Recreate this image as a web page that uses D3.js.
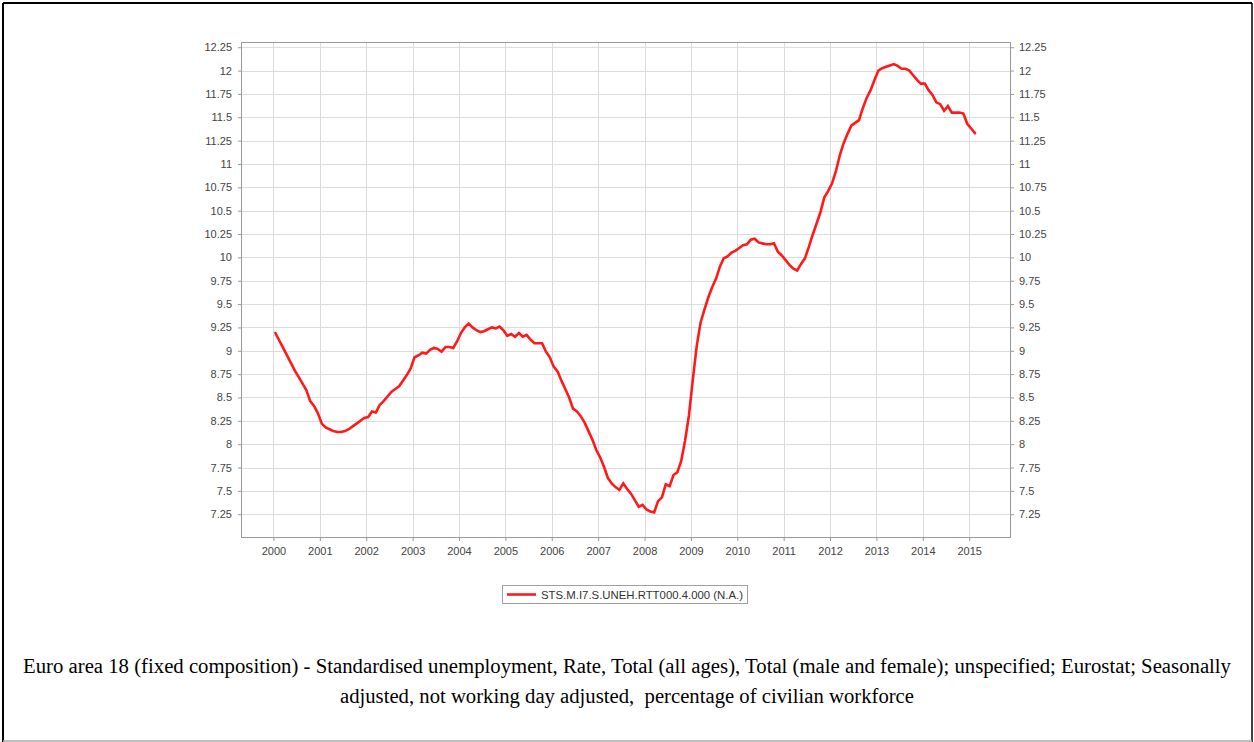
<!DOCTYPE html>
<html>
<head>
<meta charset="utf-8">
<script src="https://cdn.jsdelivr.net/npm/d3@7"></script>
<style>
  body { margin: 0; background: #fff; }
  svg { display: block; }
</style>
</head>
<body>
<svg id="chart" width="1254" height="742"></svg>
<script>
// monthly values, Jan 2000 .. Feb 2015
const startYear = 2000;
const rates = [
  // 2000
  9.19, 9.11, 9.03, 8.95, 8.87, 8.79, 8.72, 8.65, 8.58, 8.46, 8.41, 8.33,
  // 2001
  8.22, 8.18, 8.16, 8.14, 8.13, 8.13, 8.14, 8.16, 8.19, 8.22, 8.25, 8.28,
  // 2002
  8.29, 8.35, 8.34, 8.42, 8.46, 8.51, 8.56, 8.59, 8.62, 8.68, 8.74, 8.81,
  // 2003
  8.93, 8.95, 8.98, 8.97, 9.01, 9.03, 9.02, 8.99, 9.04, 9.04, 9.03, 9.10,
  // 2004
  9.19, 9.25, 9.29, 9.25, 9.22, 9.20, 9.21, 9.23, 9.25, 9.24, 9.26, 9.22,
  // 2005
  9.16, 9.18, 9.15, 9.19, 9.15, 9.17, 9.12, 9.08, 9.08, 9.08, 8.99, 8.93,
  // 2006
  8.83, 8.78, 8.68, 8.59, 8.50, 8.38, 8.35, 8.30, 8.23, 8.14, 8.05, 7.94,
  // 2007
  7.86, 7.76, 7.64, 7.58, 7.54, 7.51, 7.58, 7.52, 7.47, 7.40, 7.33, 7.35,
  // 2008
  7.30, 7.28, 7.27, 7.39, 7.43, 7.57, 7.55, 7.67, 7.70, 7.82, 8.04, 8.31,
  // 2009
  8.69, 9.05, 9.30, 9.44, 9.57, 9.68, 9.77, 9.90, 9.99, 10.01, 10.05, 10.07,
  // 2010
  10.10, 10.13, 10.14, 10.19, 10.20, 10.16, 10.15, 10.14, 10.14, 10.15, 10.06, 10.02,
  // 2011
  9.97, 9.92, 9.88, 9.86, 9.93, 9.99, 10.11, 10.24, 10.36, 10.48, 10.64, 10.71,
  // 2012
  10.79, 10.92, 11.09, 11.22, 11.32, 11.41, 11.44, 11.47, 11.60, 11.71, 11.79, 11.90,
  // 2013
  12.00, 12.025, 12.04, 12.055, 12.07, 12.05, 12.02, 12.02, 12.00, 11.95, 11.90, 11.86,
  // 2014
  11.86, 11.79, 11.74, 11.66, 11.64, 11.57, 11.62, 11.55, 11.55, 11.55, 11.54, 11.43,
  // 2015
  11.38, 11.33
];

const yearTicks = d3.range(2000, 2016);
const rateTicks = d3.range(7.25, 12.26, 0.25);
const seriesName = "STS.M.I7.S.UNEH.RTT000.4.000 (N.A.)";
const captionLines = [
  "Euro area 18 (fixed composition) - Standardised unemployment, Rate, Total (all ages), Total (male and female); unspecified; Eurostat; Seasonally",
  "adjusted, not working day adjusted,  percentage of civilian workforce"
];

// points at the middle of each month
const points = rates.map((v, i) => ({ t: startYear + (i + 0.5) / 12, v: v }));

const svg = d3.select("#chart");

// page frame
svg.append("line").attr("x1", 3).attr("y1", 3).attr("x2", 1252).attr("y2", 3)
  .attr("stroke", "#000").attr("stroke-width", 2);
svg.append("line").attr("x1", 3).attr("y1", 3).attr("x2", 3).attr("y2", 742)
  .attr("stroke", "#000").attr("stroke-width", 2);
svg.append("line").attr("x1", 1252).attr("y1", 3).attr("x2", 1252).attr("y2", 742)
  .attr("stroke", "#000").attr("stroke-width", 1.5);
svg.append("line").attr("x1", 3).attr("y1", 741).attr("x2", 1252).attr("y2", 741)
  .attr("stroke", "#aaa").attr("stroke-width", 1.5);

const plot = { left: 241, right: 1010, top: 42, bottom: 537 };

const x = d3.scaleLinear()
  .domain([1999.30, 2015.88])
  .range([plot.left, plot.right]);

const y = d3.scaleLinear()
  .domain([7.006, 12.306])
  .range([plot.bottom, plot.top]);

// grid
const grid = svg.append("g").attr("stroke", "#dcdcdc").attr("stroke-width", 1);
grid.selectAll("line.v")
  .data(yearTicks)
  .join("line")
  .attr("class", "v")
  .attr("x1", d => Math.round(x(d)) + 0.5).attr("x2", d => Math.round(x(d)) + 0.5)
  .attr("y1", plot.top).attr("y2", plot.bottom);
grid.selectAll("line.h")
  .data(rateTicks)
  .join("line")
  .attr("class", "h")
  .attr("y1", d => Math.round(y(d)) + 0.5).attr("y2", d => Math.round(y(d)) + 0.5)
  .attr("x1", plot.left).attr("x2", plot.right);

// plot border
svg.append("rect")
  .attr("x", plot.left + 0.5).attr("y", plot.top + 0.5)
  .attr("width", plot.right - plot.left).attr("height", plot.bottom - plot.top)
  .attr("fill", "none").attr("stroke", "#999");

const fmt = d => d3.format("")(+d.toFixed(2));

function styleAxis(g) {
  g.select(".domain").remove();
  g.selectAll(".tick line").attr("stroke", "#999");
  g.selectAll(".tick text")
    .attr("fill", "#444")
    .style("font-family", "'Liberation Sans', Arial, sans-serif")
    .style("font-size", "11px");
}

svg.append("g")
  .attr("transform", `translate(${plot.left},0)`)
  .call(d3.axisLeft(y).tickValues(rateTicks).tickFormat(fmt).tickSize(3).tickPadding(6))
  .call(styleAxis);

svg.append("g")
  .attr("transform", `translate(${plot.right + 1},0)`)
  .call(d3.axisRight(y).tickValues(rateTicks).tickFormat(fmt).tickSize(3).tickPadding(5))
  .call(styleAxis);

svg.append("g")
  .attr("transform", `translate(0,${plot.bottom + 1})`)
  .call(d3.axisBottom(x).tickValues(yearTicks).tickFormat(d3.format("d")).tickSize(3).tickPadding(6))
  .call(styleAxis);

// series line
const line = d3.line()
  .x(d => x(d.t))
  .y(d => y(d.v));

svg.append("path")
  .datum(points)
  .attr("d", line)
  .attr("fill", "none")
  .attr("stroke", "#ff1a1a")
  .attr("stroke-width", 2.6)
  .attr("stroke-linejoin", "miter")
  .attr("stroke-linecap", "round");

// legend
const legend = svg.append("g");
legend.append("rect")
  .attr("x", 502.5).attr("y", 585.5).attr("width", 245).attr("height", 18)
  .attr("fill", "#fff").attr("stroke", "#a0a0a0");
legend.append("line")
  .attr("x1", 507).attr("x2", 536).attr("y1", 594.5).attr("y2", 594.5)
  .attr("stroke", "#ff1a1a").attr("stroke-width", 2.6);
legend.append("text")
  .attr("x", 541).attr("y", 598.5)
  .attr("fill", "#333")
  .style("font-family", "'Liberation Sans', Arial, sans-serif")
  .style("font-size", "11px")
  .attr("textLength", 202)
  .attr("lengthAdjust", "spacingAndGlyphs")
  .text(seriesName);

// caption
const capWidths = [1208, 574];
svg.selectAll("text.caption")
  .data(captionLines)
  .join("text")
  .attr("class", "caption")
  .attr("x", 627)
  .attr("y", (d, i) => 673 + i * 30)
  .attr("text-anchor", "middle")
  .attr("fill", "#000")
  .style("font-family", "'Liberation Serif', 'Times New Roman', serif")
  .style("font-size", "20px")
  .style("white-space", "pre")
  .attr("textLength", (d, i) => capWidths[i])
  .attr("lengthAdjust", "spacingAndGlyphs")
  .text(d => d);
</script>
</body>
</html>
